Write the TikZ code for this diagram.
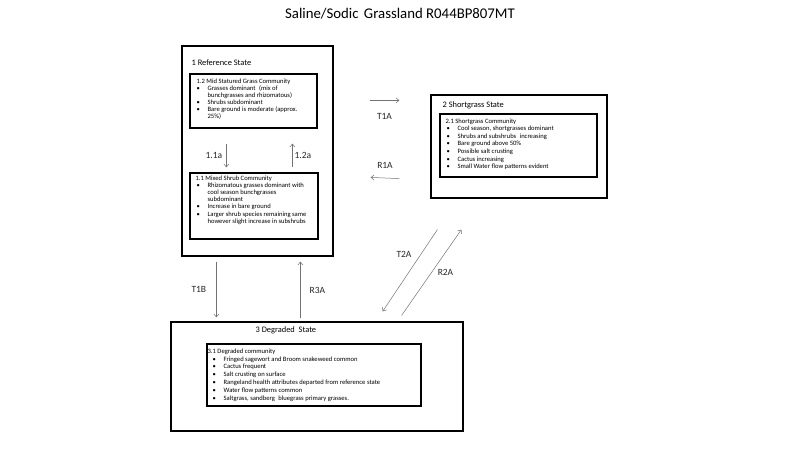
\documentclass[tikz,border=0pt]{standalone}
\usepackage{fontspec}
\setmainfont{Carlito}
\usetikzlibrary{positioning,calc,arrows.meta}

\newcommand{\itm}[2][0pt]{\hspace*{#1}\makebox[11pt][l]{\textbullet}#2}
\newcommand{\cnt}[2][0pt]{\hspace*{\dimexpr#1+11pt\relax}#2}

\begin{document}
\begin{tikzpicture}[
  x=1pt,
  y=-1pt,
  every node/.style={
    inner sep=0pt
  },
  statebox/.style={
    rectangle,
    draw=black,
    line width=1.2pt
  },
  communitybox/.style={
    rectangle,
    draw=black,
    line width=1.2pt
  },
  community/.style={
    anchor=north west,
    align=left,
    font=\fontsize{6.6}{7.3}\selectfont
  },
  statelabel/.style={
    anchor=west,
    font=\fontsize{8.4}{10}\selectfont
  },
  transition/.style={
    draw=black!55,
    line width=0.5pt,
    -{Straight Barb[length=3pt,width=5pt]}
  },
  translabel/.style={
    text=black!85,
    font=\fontsize{9.5}{11}\selectfont
  }
]
  \useasboundingbox (0,0) rectangle (800,450);

  \node (Title) [font=\fontsize{14.8}{17}\selectfont] at (400,14) {Saline/Sodic\hspace{2pt} Grassland R044BP807MT};

  \node (Reference) [statebox, minimum width=151pt, minimum height=210pt] at (257.5,151) {};
  \node (Shortgrass) [statebox, minimum width=176pt, minimum height=103pt] at (519,146.5) {};
  \node (Degraded) [statebox, minimum width=292pt, minimum height=109pt] at (317,376.5) {};

  \node (ReferenceLabel) [statelabel] at ($ (Reference.north west) + (10,17) $) {1 Reference State};
  \node (ShortgrassLabel) [statelabel] at ($ (Shortgrass.north west) + (12,11) $) {2 Shortgrass State};
  \node (DegradedLabel) [statelabel] at ($ (Degraded.north west) + (85,9) $) {3 Degraded\hspace{2pt} State};

  \node (MidStatured) [communitybox, minimum width=127pt, minimum height=54pt] at (253.5,101) {};
  \node (MixedShrub) [communitybox, minimum width=128pt, minimum height=66pt] at (254,206) {};
  \node (ShortgrassCom) [communitybox, minimum width=157pt, minimum height=63pt] at (518.5,145.5) {};
  \node (DegradedCom) [communitybox, minimum width=214pt, minimum height=62pt] at (314,375) {};

  \node (MidStaturedText) [community, font=\fontsize{6.6}{7.1}\selectfont] at ($ (MidStatured.north west) + (7,5) $) {%
    1.2 Mid Statured Grass Community\\
    \itm{Grasses dominant\hspace{2pt} (mix of}\\
    \cnt{bunchgrasses and rhizomatous)}\\
    \itm{Shrubs subdominant}\\
    \itm{Bare ground is moderate (approx.}\\
    \cnt{25\%)}};
  \node (MixedShrubText) [community, font=\fontsize{6.6}{7.2}\selectfont] at ($ (MixedShrub.north west) + (6,3) $) {%
    1.1 Mixed Shrub Community\\
    \itm[1pt]{Rhizomatous grasses dominant with}\\
    \cnt[1pt]{cool season bunchgrasses}\\
    \cnt[1pt]{subdominant}\\
    \itm[1pt]{Increase in bare ground}\\
    \itm[1pt]{Larger shrub species remaining same}\\
    \cnt[1pt]{however slight increase in subshrubs}};
  \node (ShortgrassComText) [community, font=\fontsize{6.6}{7.6}\selectfont] at ($ (ShortgrassCom.north west) + (6,5) $) {%
    2.1 Shortgrass Community\\
    \itm[1pt]{Cool season, shortgrasses dominant}\\
    \itm[1pt]{Shrubs and subshrubs\hspace{2pt} increasing}\\
    \itm[1pt]{Bare ground above 50\%}\\
    \itm[1pt]{Possible salt crusting}\\
    \itm[1pt]{Cactus increasing}\\
    \itm[1pt]{Small Water flow patterns evident}};
  \node (DegradedComText) [community, font=\fontsize{6.6}{7.9}\selectfont] at ($ (DegradedCom.north west) + (1,5) $) {%
    3.1 Degraded community\\
    \itm[5pt]{Fringed sagewort and Broom snakeweed common}\\
    \itm[5pt]{Cactus frequent}\\
    \itm[5pt]{Salt crusting on surface}\\
    \itm[5pt]{Rangeland health attributes departed from reference state}\\
    \itm[5pt]{Water flow patterns common}\\
    \itm[5pt]{Saltgrass, sandberg\hspace{2pt} bluegrass primary grasses.}};

  \draw[transition] ($ (MidStatured.south west) + (37,15) $) -- node[translabel, midway, left=4pt] {1.1a} ($ (MixedShrub.north west) + (37,-5) $);
  \draw[transition] ($ (MixedShrub.north west) + (103,-5) $) -- node[translabel, midway, right=2pt] {1.2a} ($ (MidStatured.south west) + (103,15) $);

  \draw[transition] ($ (Reference.north east) + (36,55) $) -- node[translabel, midway, below=13pt] {T1A} ($ (Shortgrass.north west) + (-31,6) $);
  \draw[transition] ($ (Shortgrass.south west) + (-31,-20) $) -- node[translabel, midway, above=9pt] {R1A} ($ (Reference.north east) + (37,132) $);

  \draw[transition] ($ (Reference.south west) + (35,5) $) -- node[translabel, midway, left=10pt] {T1B} ($ (Degraded.north west) + (46,-4) $);
  \draw[transition] ($ (Degraded.north west) + (130,-3) $) -- node[translabel, midway, right=9pt] {R3A} ($ (Reference.south west) + (119,5) $);

  \draw[transition] ($ (Shortgrass.south west) + (7,31) $) -- node[translabel, midway, shift={(-6,-16.5)}] {T2A} ($ (Degraded.north east) + (-81,-10) $);
  \draw[transition] ($ (Degraded.north east) + (-62,-6) $) -- node[translabel, midway, right=6pt] {R2A} ($ (Shortgrass.south west) + (31,31) $);
\end{tikzpicture}
\end{document}
